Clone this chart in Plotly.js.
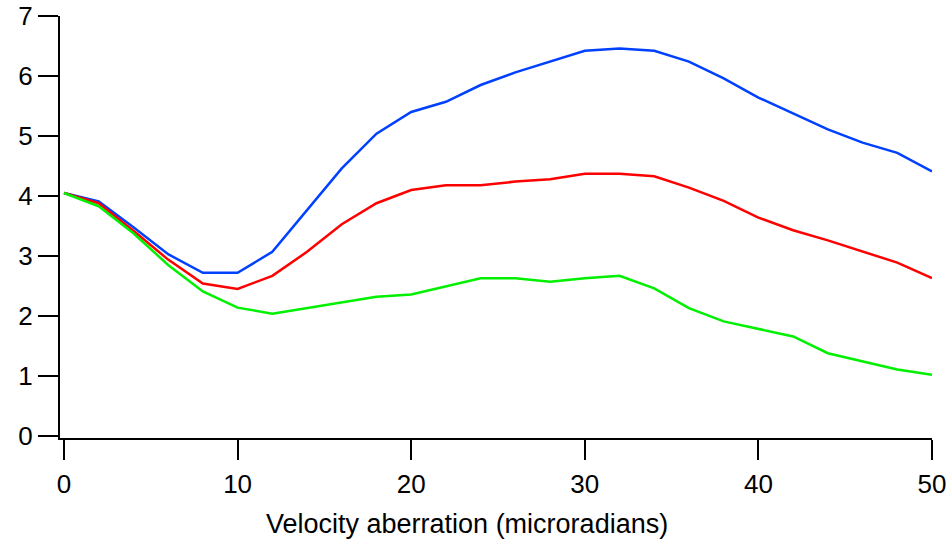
<!DOCTYPE html>
<html>
<head>
<meta charset="utf-8">
<script src="https://cdn.plot.ly/plotly-3.0.1.min.js"></script>
<style>html,body{margin:0;padding:0;background:#fff;}#chart{width:947px;height:539px;}</style>
</head>
<body>
<div id="chart"></div>
<script>
var xValues = [0, 2, 4, 6, 8, 10, 12, 14, 16, 18, 20, 22, 24, 26, 28, 30, 32, 34, 36, 38, 40, 42, 44, 46, 48, 50];
var blueValues = [4.05, 3.91, 3.48, 3.03, 2.72, 2.72, 3.07, 3.76, 4.46, 5.04, 5.40, 5.57, 5.85, 6.06, 6.24, 6.42, 6.46, 6.42, 6.24, 5.96, 5.64, 5.38, 5.11, 4.89, 4.72, 4.41];
var redValues = [4.05, 3.88, 3.42, 2.94, 2.54, 2.45, 2.67, 3.07, 3.53, 3.88, 4.10, 4.18, 4.18, 4.24, 4.28, 4.37, 4.37, 4.33, 4.14, 3.92, 3.64, 3.43, 3.26, 3.07, 2.89, 2.63];
var greenValues = [4.05, 3.83, 3.38, 2.85, 2.41, 2.14, 2.04, 2.13, 2.22, 2.32, 2.36, 2.50, 2.63, 2.63, 2.57, 2.63, 2.67, 2.46, 2.13, 1.91, 1.78, 1.66, 1.38, 1.24, 1.11, 1.02];
var xTicks = [0, 10, 20, 30, 40, 50];
var yTicks = [0, 1, 2, 3, 4, 5, 6, 7];
var xTitle = "Velocity aberration (microradians)";

var font = {family: "Liberation Sans, Arial, sans-serif", size: 26, color: "#000"};
var titleFont = {family: "Liberation Sans, Arial, sans-serif", size: 27, color: "#000"};
var traces = [
  {x: xValues, y: blueValues, mode: "lines", line: {color: "rgb(0,64,255)", width: 2.5}},
  {x: xValues, y: redValues, mode: "lines", line: {color: "rgb(255,0,0)", width: 2.5}},
  {x: xValues, y: greenValues, mode: "lines", line: {color: "rgb(0,240,0)", width: 2.5}}
];
var layout = {
  width: 947, height: 539,
  margin: {l: 60, r: 15, t: 16, b: 101},
  paper_bgcolor: "#fff", plot_bgcolor: "#fff",
  showlegend: false,
  font: font,
  xaxis: {range: [-0.23, 50], tickvals: xTicks, ticktext: xTicks.map(String), showgrid: false, zeroline: false,
          showline: true, linecolor: "#000", linewidth: 2, ticks: "outside", ticklen: 20, tickwidth: 2, tickcolor: "#000",
          tickfont: font, ticklabelstandoff: 2},
  yaxis: {range: [-0.033, 7], tickvals: yTicks, ticktext: yTicks.map(String), showgrid: false, zeroline: false,
          showline: true, linecolor: "#000", linewidth: 2, ticks: "outside", ticklen: 20, tickwidth: 2, tickcolor: "#000",
          tickfont: font},
  annotations: [{text: xTitle, xref: "paper", yref: "paper", x: 0.4667, y: -0.2038, xanchor: "center", yanchor: "middle",
                 showarrow: false, font: titleFont}]
};
Plotly.newPlot("chart", traces, layout, {staticPlot: true, displayModeBar: false});
</script>
</body>
</html>
